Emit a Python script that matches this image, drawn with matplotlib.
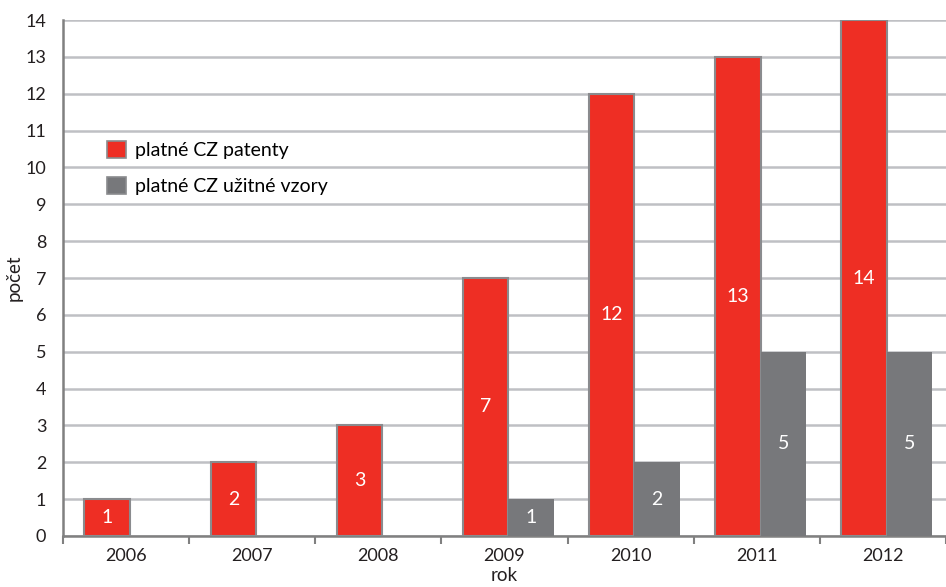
import numpy as np
import matplotlib.pyplot as plt
from matplotlib.ticker import FixedLocator

plt.rcParams['font.family'] = ['Lato', 'DejaVu Sans']

# data
years = ['2006', '2007', '2008', '2009', '2010', '2011', '2012']
patenty = [1, 2, 3, 7, 12, 13, 14]
vzory = [0, 0, 0, 1, 2, 5, 5]

red = '#ee2e24'
grey = '#77787b'
edge = '#8a8b8e'

fig = plt.figure(figsize=(9.46, 5.87), dpi=100)
ax = fig.add_axes([0.0666, 0.0869, 0.9334, 0.8790])

x = np.arange(len(years))
w = 0.36
off = 0.03
b1 = ax.bar(x - w / 2 + off, patenty, w, color=red, edgecolor=edge, linewidth=1.5,
            label='platné CZ patenty', zorder=3)
b2 = ax.bar(x + w / 2 + off, vzory, w, color=grey, edgecolor=grey, linewidth=0,
            label='platné CZ užitné vzory', zorder=3)

# value labels in the middle of the bars
for bars, vals in [(b1, patenty), (b2, vzory)]:
    for rect, v in zip(bars, vals):
        if v == 0:
            continue
        ax.text(rect.get_x() + rect.get_width() / 2, v / 2, str(v),
                ha='center', va='center', color='white', fontsize=14, zorder=4)

ax.set_xlim(-0.5, len(years) - 0.5)
ax.set_ylim(0, 14)
ax.set_yticks(range(0, 15))
ax.set_xticks(x)
ax.set_xticklabels(years)
ax.xaxis.set_minor_locator(FixedLocator(np.arange(-0.5, len(years), 1.0)))
ax.tick_params(axis='x', which='major', length=0, labelsize=13, pad=9, colors='#231f20')
ax.tick_params(axis='x', which='minor', length=6, width=1.5, color='#808080', direction='out')
ax.tick_params(axis='y', length=0, labelsize=13, pad=12, colors='#231f20')

ax.grid(axis='y', color='#bfc0c4', linewidth=1.8, zorder=0)
ax.set_axisbelow(True)
for s in ['top', 'right']:
    ax.spines[s].set_visible(False)
for s in ['left', 'bottom']:
    ax.spines[s].set_color('#808080')
    ax.spines[s].set_linewidth(1.8)

ax.set_xlabel('rok', fontsize=13.5, labelpad=2, color='#231f20')
ax.set_ylabel('počet', fontsize=13.5, labelpad=2, color='#231f20')

leg = ax.legend(loc='upper left', bbox_to_anchor=(0.03, 0.80), frameon=False,
                fontsize=14, handlelength=1.0, handleheight=1.0,
                labelspacing=0.9, handletextpad=0.45)
for h in leg.legend_handles:
    h.set_edgecolor('#8a8b8e')
    h.set_linewidth(1.2)

fig.savefig('out.png', dpi=100)
